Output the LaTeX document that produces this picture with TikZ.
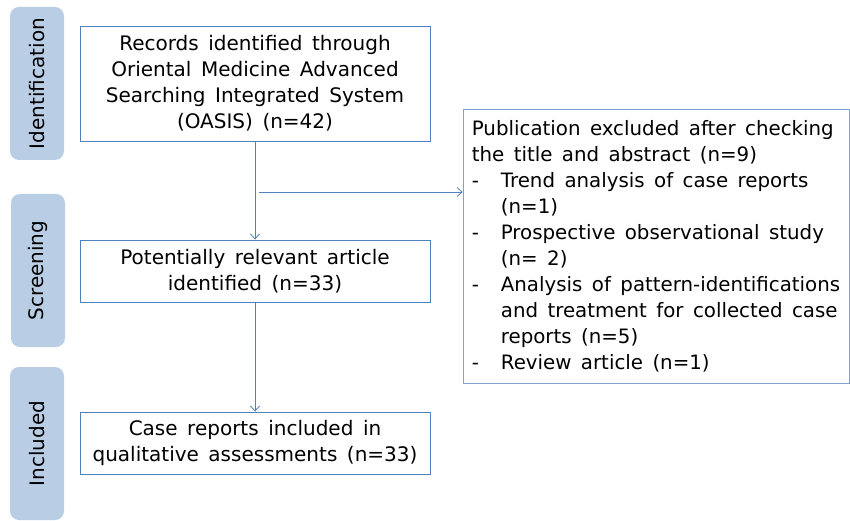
\documentclass[tikz,border=0pt]{standalone}
\usepackage{fontspec}
\setmainfont[WordSpace=1.5]{DejaVu Sans}
\usetikzlibrary{arrows.meta}
\definecolor{lineblue}{HTML}{4F81BD}
\definecolor{lightblue}{HTML}{7FA0D0}
\definecolor{sidefill}{HTML}{B9CDE5}
\begin{document}
\begin{tikzpicture}[x=1pt,y=1pt,
  every node/.style={font=\fontsize{20}{26}\selectfont, text=black},
  flowbox/.style={draw=lineblue, line width=0.9pt, minimum width=350pt, align=center, inner sep=2pt},
  sidebox/.style={fill=sidefill, rounded corners=9pt, minimum width=153pt, minimum height=54pt, rotate=90, inner sep=0pt},
  exbox/.style={draw=lightblue, line width=0.7pt, minimum width=386pt, minimum height=274pt, inner sep=2pt, align=left, font=\fontsize{19.8}{26}\selectfont},
  conn/.style={draw=lineblue, line width=0.8pt, -{Straight Barb[length=5pt,width=9pt]}}]
\useasboundingbox (0,0) rectangle (850,-521);
\node[sidebox] (s1) at (37,-83.5) {Identification};
\node[sidebox] (s2) at (38,-270.5) {Screening};
\node[sidebox] (s3) at (37,-443.5) {Included};
\node[flowbox, minimum height=115pt] (b1) at (255,-83.5) {Records identified through\\Oriental Medicine Advanced\\Searching Integrated System\\(OASIS) (n=42)};
\node[flowbox, minimum height=62pt] (b2) at (255,-271) {Potentially relevant article\\identified (n=33)};
\node[flowbox, minimum height=62pt] (b3) at (255,-443) {Case reports included in\\qualitative assessments (n=33)};
\node[exbox] (ex) at (656,-246) {Publication excluded after checking\\the title and abstract (n=9)\\\makebox[29pt][l]{-}Trend analysis of case reports\\\hspace*{29pt}(n=1)\\\makebox[29pt][l]{-}Prospective observational study\\\hspace*{29pt}(n= 2)\\\makebox[29pt][l]{-}Analysis of pattern-identifications\\\hspace*{29pt}and treatment for collected case\\\hspace*{29pt}reports (n=5)\\\makebox[29pt][l]{-}Review article (n=1)};
\coordinate (h) at (259,-192);
\draw[conn] (b1.south) -- (b2.north);
\draw[conn] (b2.south) -- (b3.north);
\draw[conn] (h) -- (h -| ex.west);
\end{tikzpicture}
\end{document}
